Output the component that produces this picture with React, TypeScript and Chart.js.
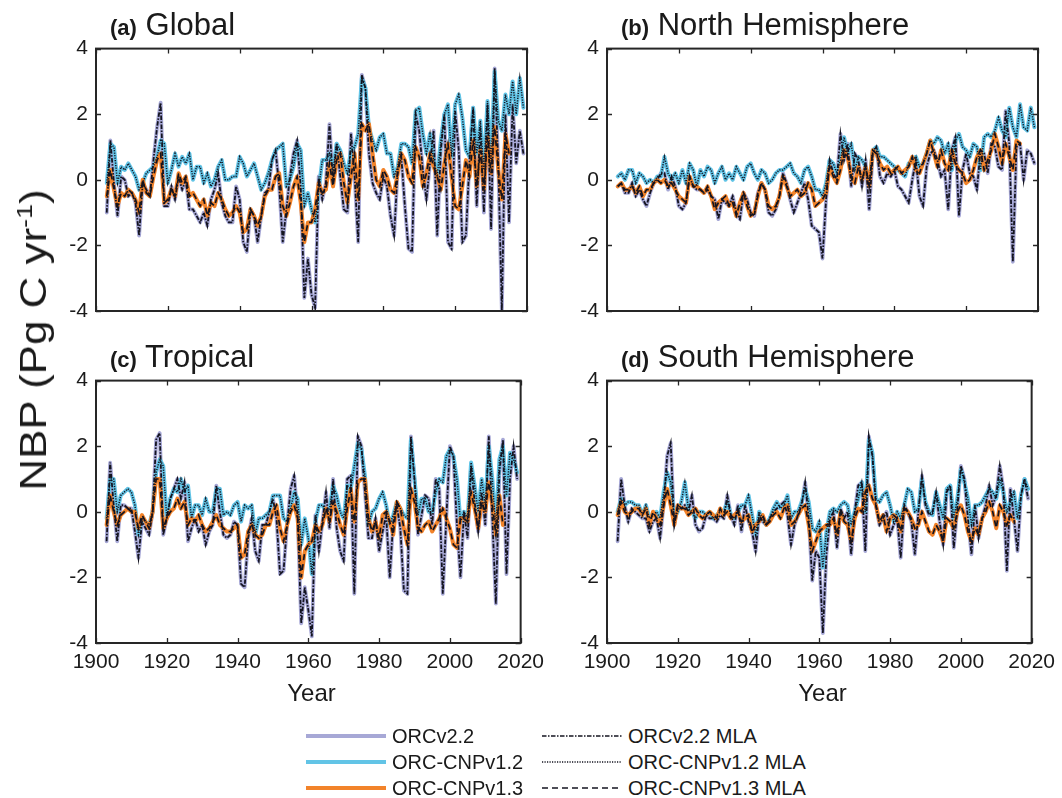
import React, { useEffect, useRef } from "react";
import { Chart, registerables } from "chart.js";

Chart.register(...registerables);

const FONT = "'Liberation Sans', Arial, Helvetica, sans-serif";
const TEXT = "#1a1a1a";

// ---------------- data ----------------
const START_YEAR = 1903; // first year of every series
const X_TICKS = [1900, 1920, 1940, 1960, 1980, 2000, 2020];
const Y_TICKS = [-4, -2, 0, 2, 4];

// (a) Global  — ORCv2.2 (≈ ORCv2.2 MLA), 1903-2019
const glbOrc22 = [
  -1.0, 1.2, -0.1, -1.1, 0.1, 0.0, -0.5, -0.4, -0.7, -1.7,
  -0.1, -0.3, -0.5, 0.6, 1.6, 2.35, -0.8, -0.8, -0.2, -0.6,
  0.1, -0.3, 0.0, -0.9, -0.9, -1.1, -1.3, -1.0, -1.4, -0.6,
  -0.3, 0.2, -0.7, -1.1, -1.3, -1.3, -0.2, -0.6, -1.9, -2.2,
  -0.9, -1.1, -1.9, -1.1, -0.4, -0.3, 0.6, 0.9, -0.2, -1.9,
  -0.9, 0.1, 0.8, 1.2, -0.2, -3.6, -2.4, -3.5, -3.9, 0.1,
  -0.6, -0.1, 1.7, -0.1, 1.1, 0.1, -0.9, -1.0, 1.4, 0.1,
  -1.9, 3.2, 2.8, 0.8, -0.1, -0.4, -0.6, 0.1, -0.2, -1.1,
  -1.7, 0.3, 0.7, -0.8, -2.1, -2.2, 2.0, 1.5, 0.3, -0.6,
  0.5, 1.5, -1.7, 0.9, 2.0, -1.9, -2.1, 2.1, 0.9, -1.9,
  -1.7, 0.6, 2.2, -0.8, 1.6, -1.0, 2.3, -1.5, 3.4, 0.5,
  -4.0, 2.0, -1.3, 2.3, 0.5, 1.5, 0.8,
];
// ORC-CNPv1.2 (≈ MLA), 1903-2019
const glbCnp12 = [
  -0.1, 1.1, 1.0, -0.1, 0.4, 0.3, 0.5, 0.3, 0.1, -0.3,
  -0.1, 0.2, 0.3, 0.4, 0.7, 1.2, 1.1, -0.1, 0.3, 0.8,
  0.4, 0.7, 0.5, 0.8, 0.0, 0.4, 0.4, -0.1, 0.2, -0.2,
  0.0, 0.4, 0.6, 0.0, 0.0, 0.1, 0.1, 0.7, 0.5, 0.1,
  0.3, 0.5, 0.1, -0.3, -0.1, 0.2, 0.6, 0.9, 1.0, 1.1,
  -0.2, 0.0, 0.4, 1.1, 0.9, -0.8, -0.4, -0.9, -1.3, -0.3,
  0.6, 0.6, 0.8, 0.3, 1.1, 0.9, 0.5, 0.2, 0.9, 1.0,
  1.4, 3.1, 2.8, 1.6, 1.2, 0.9, 1.3, 1.4, 0.8, 0.8,
  0.1, 0.4, 1.1, 1.1, 1.0, 0.5, 2.1, 2.2, 1.4, 0.8,
  1.4, 0.6, 0.1, 1.2, 2.0, 2.3, 0.7, 2.3, 2.6, 1.9,
  0.9, 0.7, 2.2, 0.8, 1.8, 0.3, 2.4, 0.5, 3.3, 1.8,
  1.5, 2.6, 2.0, 3.0, 2.0, 3.1, 2.2,
];
// ORC-CNPv1.3 (≈ MLA), 1903-2015
const glbCnp13 = [
  -0.5, 0.3, -0.3, -0.8, -0.4, -0.5, -0.3, -0.4, -0.6, -1.0,
  0.0, -0.4, -0.5, 0.1, 0.6, 0.8, -0.7, -0.6, -0.3, -0.5,
  0.2, -0.1, 0.1, -0.5, -0.4, -0.6, -0.8, -0.6, -1.1, -0.7,
  -0.8, -0.4, -0.6, -0.9, -1.1, -1.0, -0.8, -1.0, -1.6, -1.5,
  -0.9, -1.1, -1.4, -1.1, -0.5, -0.3, -0.3, 0.1, 0.2, -0.8,
  -1.1, -0.7, -0.2, 0.1, -0.7, -1.9, -1.3, -1.3, -0.9, -0.1,
  -0.4, -0.3, 0.5, -0.2, 0.6, 0.8, -0.1, -0.7, 0.1, 0.8,
  -0.6, 1.7, 1.5, 1.7, 0.8, 0.0, -0.2, 0.3, 0.1, -0.3,
  -0.4, 0.2, 0.8, 0.6, 0.1, -0.1, 1.0, 0.7, -0.2, 0.2,
  0.8, 0.4, 0.1, -0.3, 0.5, 1.1, 0.1, -0.8, -0.9, -0.2,
  0.6, 0.1, 1.2, -0.2, 0.9, -0.3, 1.3, 0.2, 1.6, 0.3,
  -0.6, 1.4, 0.8,
];

// (b) North Hemisphere
const nhOrc22 = [
  -0.2, -0.1, -0.4, -0.4, -0.1, -0.5, -0.3, -0.6, -0.8, -0.4,
  -0.1, 0.0, 0.2, 0.2, -0.3, 0.1, -0.2, -0.8, -0.9, -0.7,
  0.1, -0.2, -0.3, -0.3, -0.4, -0.3, -0.5, -0.6, -1.2, -0.6,
  -0.7, -0.8, -0.5, -1.0, -1.2, -0.4, -0.6, -1.0, -1.1, -0.4,
  -0.1, -0.3, -1.0, -1.1, -0.9, -0.5, 0.2, -0.1, -0.6, -1.0,
  -0.7, -0.4, -0.1, -0.6, -1.4, -1.5, -1.6, -2.4, -0.6, 0.6,
  0.2, 0.0, 1.4, 0.6, 1.1, -0.2, 0.8, 0.6, -0.2, 0.6,
  -0.9, 0.8, 1.0, 0.1, -0.1, 0.2, 0.1, 0.3, -0.2, -0.3,
  -0.5, -0.7, 0.0, 0.6, -0.5, -0.8, 0.4, 0.8, 0.9, 0.6,
  0.1, 0.3, -0.9, 0.9, 1.3, -1.1, 0.3, 0.8, 0.2, 0.1,
  -0.3, 0.9, 0.8, 0.2, 1.1, 1.0, 0.4, 0.3, 2.1, 1.1,
  -2.5, 1.0, 1.1, 0.0, 0.9, 0.8, 0.5,
];
const nhCnp12 = [
  0.1, 0.2, 0.0, 0.3, 0.3, -0.1, 0.2, 0.1, -0.1, 0.0,
  -0.1, 0.1, 0.1, 0.7, 0.2, 0.0, 0.2, -0.1, 0.3, -0.1,
  0.5, 0.3, -0.2, 0.3, 0.1, 0.4, 0.3, -0.1, 0.2, 0.4,
  0.0, 0.2, 0.0, 0.4, 0.2, 0.0, 0.4, 0.5, 0.2, 0.0,
  0.3, 0.2, -0.1, 0.0, 0.2, 0.3, 0.3, 0.4, 0.5, 0.2,
  0.1, -0.1, 0.3, 0.4, 0.1, -0.3, -0.3, -0.5, -0.1, 0.6,
  0.5, 0.2, 0.6, 1.3, 0.8, 1.1, 0.3, 0.7, 0.6, 0.4,
  -0.1, 0.9, 1.0, 0.7, 0.7, 0.6, 0.5, 0.4, 0.3, 0.2,
  0.1, 0.5, 0.6, 0.7, 0.4, 0.5, 0.8, 1.2, 1.1, 1.3,
  1.2, 0.8, 1.1, 0.3, 1.2, 1.4, 1.0, 0.9, 0.7, 1.1,
  1.0, 0.3, 1.3, 1.4, 1.3, 1.5, 1.9, 1.5, 1.3, 2.2,
  1.6, 1.3, 2.3, 1.6, 1.5, 2.2, 1.6,
];
const nhCnp13 = [
  -0.2, -0.1, -0.3, -0.3, -0.2, -0.4, -0.2, -0.5, -0.3, -0.3,
  -0.1, 0.0, -0.1, 0.0, -0.2, -0.1, -0.3, -0.5, -0.6, -0.7,
  0.1, -0.2, -0.2, -0.3, -0.4, -0.2, -0.5, -0.9, -0.7, -0.6,
  -0.5, -0.8, -0.7, -1.1, -0.7, -0.4, -0.8, -1.1, -1.0, -0.5,
  -0.1, -0.3, -0.8, -0.9, -0.8, -0.5, 0.1, -0.2, -0.5, -0.4,
  -0.3, -0.5, -0.4, -0.1, -0.3, -0.8, -0.7, -0.6, -0.4, 0.4,
  0.1, -0.1, 0.3, 0.9, 0.7, 0.1, -0.1, 0.4, 0.0, 0.4,
  -0.2, 0.9, 0.8, 0.5, 0.3, 0.4, 0.2, 0.3, 0.4, 0.2,
  0.3, 0.4, 0.7, 0.3, 0.2, 0.5, 0.8, 1.2, 0.8, 0.4,
  0.9, 0.5, 0.3, 0.9, 0.5, 0.3, 0.2, -0.1, 0.0, 0.3,
  0.7, 0.9, 0.3, 0.6, 0.9, 1.4, 1.0, 0.5, 1.1, 0.7,
  0.3, 1.2, 1.1,
];

// (c) Tropical
const trOrc22 = [
  -0.9, 1.5, 0.2, -0.9, 0.2, 0.2, 0.1, 0.1, -0.6, -1.4,
  -0.3, -0.5, -0.7, 0.0, 2.2, 2.4, -0.7, -0.2, 0.4, 0.7,
  1.0, 0.4, 0.9, -0.9, -0.5, -0.2, -0.6, -0.4, -1.0, -0.6,
  -0.4, 0.8, 0.0, -0.7, -0.8, -0.7, -0.3, -0.4, -2.2, -2.3,
  -0.8, -0.2, -1.2, -1.5, -0.4, -0.4, 0.0, 0.4, -0.2, -1.9,
  -1.8, -0.4, 0.7, 1.1, -0.2, -3.4, -2.3, -3.0, -3.8, -0.1,
  -1.2, -0.3, 0.6, -0.5, 1.0, -0.5, -1.2, -1.5, 1.0, 1.1,
  -2.5, 2.3, 2.0, 0.6, -0.8, -0.8, -0.2, -1.2, -0.6, -0.1,
  -2.0, -0.3, 0.2, -0.5, -2.4, -2.5, 2.3, 1.0, -0.7, -0.1,
  0.5, 0.4, -0.4, 1.0, 0.7, -2.5, -0.2, 2.0, 1.7, -0.4,
  -2.0, 0.0, -0.8, 1.4, 0.3, -0.6, 0.6, -0.4, 2.3, -0.2,
  -2.8, 1.2, 2.2, -1.9, 1.0, 2.0, 1.0,
];
const trCnp12 = [
  -0.2, 1.0, 1.0, 0.0, 0.5, 0.6, 0.7, 0.6, 0.2, -0.7,
  -0.2, -0.3, -0.4, 0.0, 1.2, 1.6, 1.4, -0.2, 0.4, 0.7,
  0.6, 1.0, 0.6, 0.8, -0.2, 0.2, 0.2, -0.1, 0.4, 0.0,
  0.0, 0.7, 0.7, -0.1, 0.0, -0.1, 0.2, 0.3, -0.3, 0.2,
  0.1, 0.2, -0.7, -0.2, -0.2, -0.1, 0.0, 0.5, 0.5, 0.5,
  -0.2, -0.3, 0.1, 0.6, 0.4, -1.0, -0.2, -0.8, -1.9, -0.3,
  0.2, 0.2, 0.0, 0.1, 0.8, 0.5, 0.0, -0.2, 0.8, 0.7,
  1.4, 2.1, 1.9, 1.1, -0.4, 0.0, 0.1, 0.4, 0.6, 0.2,
  -0.4, -0.1, 0.3, 0.1, -0.1, -0.2, 2.2, 1.0, -0.1, 0.4,
  0.4, 0.0, 0.0, 0.6, 1.0, 0.9, 1.7, 1.9, 1.7, 1.0,
  -0.3, 0.0, -0.2, 1.5, 0.8, 0.0, 1.0, 0.2, 2.0, 1.0,
  -0.5, 1.6, 2.0, 0.5, 1.8, 1.6, 1.2,
];
const trCnp13 = [
  -0.4, 0.5, 0.0, -0.4, -0.1, 0.0, 0.1, 0.0, 0.0, -0.5,
  -0.1, -0.3, -0.5, 0.0, 1.0, 1.0, -0.5, -0.2, 0.0, 0.1,
  0.4, 0.1, 0.3, -0.4, -0.2, -0.3, -0.1, -0.4, -0.6, -0.5,
  -0.3, -0.1, -0.4, -0.5, -0.6, -0.6, -0.5, -0.4, -1.4, -1.3,
  -0.6, -0.4, -0.7, -0.8, -0.7, -0.4, -0.4, 0.0, 0.2, -0.5,
  -0.9, -0.4, 0.0, 0.2, -0.2, -2.0, -1.2, -1.0, -0.9, -0.4,
  -0.6, -0.4, 0.1, -0.3, 0.3, 0.0, -0.4, -0.7, 0.1, 0.7,
  -0.3, 0.9, 1.0, 1.0, -0.2, -0.6, -0.3, -0.8, -0.1, 0.0,
  -0.3, -0.7, 0.3, 0.1, -0.5, -1.0, 0.7, 0.3, -0.5, -0.6,
  -0.4, -0.3, -0.6, -0.4, -0.2, 0.1, -0.2, -0.5, -1.0, -1.1,
  -0.2, -0.2, -0.3, 0.6, 0.1, -0.5, 0.3, 0.0, 0.9, 0.2,
  -0.7, 0.5, -0.4,
];

// (d) South Hemisphere
const shOrc22 = [
  -0.9, 1.0, 0.2, -0.3, 0.1, 0.0, -0.1, -0.2, -0.2, -0.6,
  -0.3, -0.2, -0.8, 0.2, 1.7, 2.1, -0.4, 0.2, 0.1, 0.2,
  0.0, 0.5, -0.4, -0.6, -0.5, -0.1, -0.2, -0.2, -0.3, -0.1,
  -0.2, 0.5, -0.1, -0.4, 0.2, -0.6, 0.2, -0.3, -0.6, -1.2,
  -0.1, -0.3, -0.4, -0.2, 0.0, 0.1, 0.2, 0.3, -0.1, -1.0,
  -0.4, -0.1, 0.2, 0.9, -0.2, -2.1, -1.2, -1.4, -3.7, -1.3,
  -0.2, 0.0, -1.1, 0.1, -0.2, 0.0, -1.3, 0.0, 0.8, 0.9,
  -1.2, 2.3, 1.7, 0.2, -0.4, -0.2, 0.0, -0.7, -0.4, -0.2,
  -1.4, 0.2, 0.0, -0.3, -1.3, 0.0, 1.1, 0.2, -0.1, 0.0,
  0.6, -0.3, -1.0, 0.6, 0.8, -1.1, 0.1, 1.4, 1.0, -0.2,
  -1.3, 0.2, -0.8, -0.2, 0.2, 0.8, 0.2, 0.5, 1.4, 0.7,
  -1.8, 0.7, -0.2, -1.2, 0.5, 1.0, 0.4,
];
const shCnp12 = [
  0.0, 0.4, 0.2, 0.3, 0.3, 0.2, 0.2, -0.1, 0.2, -0.2,
  -0.1, 0.0, -0.2, 0.6, 1.2, 0.9, -0.2, 0.0, 0.3, 0.9,
  0.1, 0.0, -0.2, 0.0, 0.0, -0.1, 0.0, -0.2, -0.1, 0.0,
  0.0, 0.3, -0.1, -0.2, 0.0, 0.2, 0.2, 0.5, -0.1, -0.7,
  0.0, -0.2, -0.4, -0.2, 0.1, 0.3, 0.1, 0.2, 0.5, -0.2,
  0.0, 0.0, 0.3, 0.7, 0.3, -0.5, -0.6, -0.3, -1.7, -0.6,
  0.0, 0.1, 0.0, 0.2, 0.3, 0.2, -0.4, 0.0, 0.4, 0.9,
  0.0, 2.2, 1.8, 0.4, 0.3, 0.5, 0.6, 0.2, -0.3, 0.0,
  -0.2, 0.2, 0.7, 0.6, 0.0, 0.1, 1.0, 0.3, 0.0, -0.1,
  0.6, 0.2, -0.2, 0.7, 0.8, -0.2, 0.4, 1.3, 0.9, 0.4,
  -0.4, 0.2, 0.2, 0.3, 0.5, 0.7, 0.6, 0.4, 1.0, 0.6,
  0.0, 0.3, 0.6, -0.2, 0.5, 1.0, 0.7,
];
const shCnp13 = [
  -0.1, 0.3, 0.0, -0.1, 0.0, 0.1, 0.1, -0.1, 0.1, -0.4,
  0.0, -0.2, -0.4, 0.2, 0.7, 0.2, -0.4, 0.2, 0.1, 0.1,
  -0.1, 0.0, 0.1, -0.1, -0.2, -0.1, 0.0, -0.1, -0.2, 0.1,
  -0.1, 0.0, -0.2, -0.1, 0.0, -0.3, -0.2, -0.1, -0.6, -0.4,
  -0.3, -0.1, -0.4, -0.3, -0.1, 0.0, -0.2, 0.1, 0.2, -0.4,
  -0.3, -0.1, 0.1, 0.2, -0.4, -1.2, -0.9, -0.6, -0.5, -0.4,
  -0.4, -0.2, -0.7, 0.0, -0.3, -0.4, -0.9, -0.2, 0.1, 0.0,
  0.6, 0.8, 0.4, 0.2, -0.3, -0.1, -0.6, -0.2, -0.1, -0.2,
  -0.6, 0.1, 0.0, -0.2, -0.5, -0.4, 0.0, -0.3, -0.6, -0.7,
  -0.4, -0.6, -0.9, -0.2, -0.3, -0.5, 0.0, 0.2, -0.1, -0.6,
  -0.9, -0.5, -0.7, -0.2, 0.0, 0.3, 0.0, -0.5, 0.2, 0.0,
  -0.4, -0.1, -0.3,
];

const SERIES_LABELS = [
  "ORCv2.2",
  "ORC-CNPv1.2",
  "ORC-CNPv1.3",
  "ORCv2.2 MLA",
  "ORC-CNPv1.2 MLA",
  "ORC-CNPv1.3 MLA",
];

// ---------------- styles ----------------
const COL_LAV = "#a7a8d6";
const COL_CYAN = "#62c4e6";
const COL_ORANGE = "#f2832a";
const COL_BLACK = "#141420";

const DASH_DOT = [4.5, 1.5, 1.5, 1.5];
const DOTTED = [1.2, 1.3];
const DASHED = [6, 4];

const FRAME_W = 431;
const FRAME_H = 267;
const PAD_L = 70;
const PAD_T = 16;
const PAD_R = 24;
const PAD_B = 50;

type PanelDef = {
  tag: string;
  name: string;
  orc22: number[];
  cnp12: number[];
  cnp13: number[];
  fx: number;
  fy: number;
  showX: boolean;
};

const PANELS: PanelDef[] = [
  { tag: "(a)", name: "Global", orc22: glbOrc22, cnp12: glbCnp12, cnp13: glbCnp13, fx: 96, fy: 44, showX: false },
  { tag: "(b)", name: "North Hemisphere", orc22: nhOrc22, cnp12: nhCnp12, cnp13: nhCnp13, fx: 607, fy: 44, showX: false },
  { tag: "(c)", name: "Tropical", orc22: trOrc22, cnp12: trCnp12, cnp13: trCnp13, fx: 96, fy: 376, showX: true },
  { tag: "(d)", name: "South Hemisphere", orc22: shOrc22, cnp12: shCnp12, cnp13: shCnp13, fx: 607, fy: 376, showX: true },
];

const toPoints = (vals: number[]) => vals.map((v, i) => ({ x: START_YEAR + i, y: v }));

const framePlugin = {
  id: "matlabFrame",
  afterDraw(chart: any) {
    const { ctx, chartArea, scales } = chart;
    const { left, right, top, bottom } = chartArea;
    const tl = 5;
    ctx.save();
    ctx.strokeStyle = "#262626";
    ctx.lineWidth = 1.3;
    ctx.beginPath();
    X_TICKS.forEach((v) => {
      const px = Math.round(scales.x.getPixelForValue(v)) + 0.5;
      ctx.moveTo(px, bottom);
      ctx.lineTo(px, bottom - tl);
      ctx.moveTo(px, top);
      ctx.lineTo(px, top + tl);
    });
    Y_TICKS.forEach((v) => {
      const py = Math.round(scales.y.getPixelForValue(v)) + 0.5;
      ctx.moveTo(left, py);
      ctx.lineTo(left + tl, py);
      ctx.moveTo(right, py);
      ctx.lineTo(right - tl, py);
    });
    ctx.stroke();
    ctx.lineWidth = 2;
    ctx.strokeRect(left, top, right - left, bottom - top);
    ctx.restore();
  },
};

function Panel({ p }: { p: PanelDef }) {
  const ref = useRef<HTMLCanvasElement | null>(null);
  useEffect(() => {
    if (!ref.current) return;
    const thick = (label: string, data: number[], color: string, w: number) => ({
      label,
      data: toPoints(data),
      borderColor: color,
      borderWidth: w,
      pointRadius: 0,
      tension: 0,
      borderJoinStyle: "round" as const,
      borderCapStyle: "round" as const,
      fill: false,
    });
    const thin = (label: string, data: number[], dash: number[], w: number) => ({
      label,
      data: toPoints(data),
      borderColor: COL_BLACK,
      borderWidth: w,
      borderDash: dash,
      pointRadius: 0,
      tension: 0,
      fill: false,
    });
    const chart = new Chart(ref.current, {
      type: "line",
      data: {
        datasets: [
          thin(SERIES_LABELS[3], p.orc22, DASH_DOT, 1.8),
          thin(SERIES_LABELS[4], p.cnp12, DOTTED, 1.5),
          thin(SERIES_LABELS[5], p.cnp13, DASHED, 1.7),
          thick(SERIES_LABELS[2], p.cnp13, COL_ORANGE, 4),
          thick(SERIES_LABELS[1], p.cnp12, COL_CYAN, 4),
          thick(SERIES_LABELS[0], p.orc22, COL_LAV, 3.8),
        ],
      },
      options: {
        animation: false,
        responsive: false,
        events: [],
        layout: { autoPadding: false, padding: { left: 0, top: PAD_T, right: PAD_R, bottom: 0 } },
        plugins: { legend: { display: false }, tooltip: { enabled: false }, title: { display: false } },
        scales: {
          x: {
            type: "linear",
            min: 1900,
            max: 2020,
            grid: { display: false, drawTicks: false },
            border: { display: false },
            afterBuildTicks: (s: any) => {
              s.ticks = X_TICKS.map((v) => ({ value: v }));
            },
            afterFit: (s: any) => {
              s.height = PAD_B;
            },
            ticks: {
              display: p.showX,
              autoSkip: false,
              maxRotation: 0,
              padding: 7,
              color: TEXT,
              font: { family: FONT, size: 21 },
              callback: (v: any) => String(v),
            },
          },
          y: {
            type: "linear",
            min: -4,
            max: 4,
            grid: { display: false, drawTicks: false },
            border: { display: false },
            afterBuildTicks: (s: any) => {
              s.ticks = Y_TICKS.map((v) => ({ value: v }));
            },
            afterFit: (s: any) => {
              s.width = PAD_L;
            },
            ticks: {
              padding: 8,
              color: TEXT,
              font: { family: FONT, size: 21 },
              callback: (v: any) => String(v),
            },
          },
        },
      },
      plugins: [framePlugin],
    } as any);
    return () => chart.destroy();
  }, [p]);

  const w = PAD_L + FRAME_W + PAD_R;
  const h = PAD_T + FRAME_H + PAD_B;
  return (
    <>
      <canvas
        ref={ref}
        width={w}
        height={h}
        style={{ position: "absolute", left: p.fx - PAD_L, top: p.fy - PAD_T, width: w, height: h }}
      />
      <div
        style={{
          position: "absolute",
          left: p.fx + 14,
          top: p.fy - 34,
          fontSize: 31,
          lineHeight: "30px",
          whiteSpace: "nowrap",
          color: TEXT,
        }}
      >
        <span style={{ fontWeight: "bold", fontSize: 22 }}>{p.tag}</span> {p.name}
      </div>
    </>
  );
}

function LegendSample({ color, width, dash }: { color: string; width: number; dash?: number[] }) {
  return (
    <svg width={80} height={10} style={{ display: "block" }}>
      <line
        x1={0}
        y1={5}
        x2={80}
        y2={5}
        stroke={color}
        strokeWidth={width}
        strokeDasharray={dash ? dash.join(" ") : undefined}
      />
    </svg>
  );
}

const LEGEND_ROWS = [736, 762, 788];

function Legend() {
  const col1 = [
    { label: SERIES_LABELS[0], color: COL_LAV, width: 4 },
    { label: SERIES_LABELS[1], color: COL_CYAN, width: 4 },
    { label: SERIES_LABELS[2], color: COL_ORANGE, width: 4 },
  ];
  const col2 = [
    { label: SERIES_LABELS[3], dash: DASH_DOT },
    { label: SERIES_LABELS[4], dash: DOTTED },
    { label: SERIES_LABELS[5], dash: DASHED },
  ];
  const text = (x: number, y: number, s: string) => (
    <div
      style={{
        position: "absolute",
        left: x,
        top: y - 11,
        fontSize: 20,
        lineHeight: "22px",
        whiteSpace: "nowrap",
        color: TEXT,
      }}
    >
      {s}
    </div>
  );
  return (
    <>
      {col1.map((it, i) => (
        <React.Fragment key={"a" + i}>
          <div style={{ position: "absolute", left: 306, top: LEGEND_ROWS[i] - 5 }}>
            <LegendSample color={it.color} width={it.width} />
          </div>
          {text(392, LEGEND_ROWS[i], it.label)}
        </React.Fragment>
      ))}
      {col2.map((it, i) => (
        <React.Fragment key={"b" + i}>
          <div style={{ position: "absolute", left: 542, top: LEGEND_ROWS[i] - 5 }}>
            <LegendSample color={COL_BLACK} width={1.3} dash={it.dash} />
          </div>
          {text(628, LEGEND_ROWS[i], it.label)}
        </React.Fragment>
      ))}
    </>
  );
}

export default function App() {
  return (
    <div
      style={{
        position: "absolute",
        left: 0,
        top: 0,
        width: 1062,
        height: 798,
        background: "#ffffff",
        fontFamily: FONT,
        color: TEXT,
        overflow: "hidden",
      }}
    >
      {PANELS.map((p) => (
        <Panel key={p.tag} p={p} />
      ))}
      <div
        style={{
          position: "absolute",
          left: 34,
          top: 340,
          transform: "translate(-50%, -50%) rotate(-90deg) scaleX(1.22)",
          fontSize: 36,
          lineHeight: "38px",
          whiteSpace: "nowrap",
          color: TEXT,
        }}
      >
        NBP (Pg C yr<span style={{ fontSize: 22, verticalAlign: "0.65em", lineHeight: 0 }}>-1</span>)
      </div>
      {[96, 607].map((fx) => (
        <div
          key={fx}
          style={{
            position: "absolute",
            left: fx + FRAME_W / 2,
            top: 681,
            transform: "translateX(-50%)",
            fontSize: 24,
            lineHeight: "24px",
            whiteSpace: "nowrap",
            color: TEXT,
          }}
        >
          Year
        </div>
      ))}
      <Legend />
    </div>
  );
}
